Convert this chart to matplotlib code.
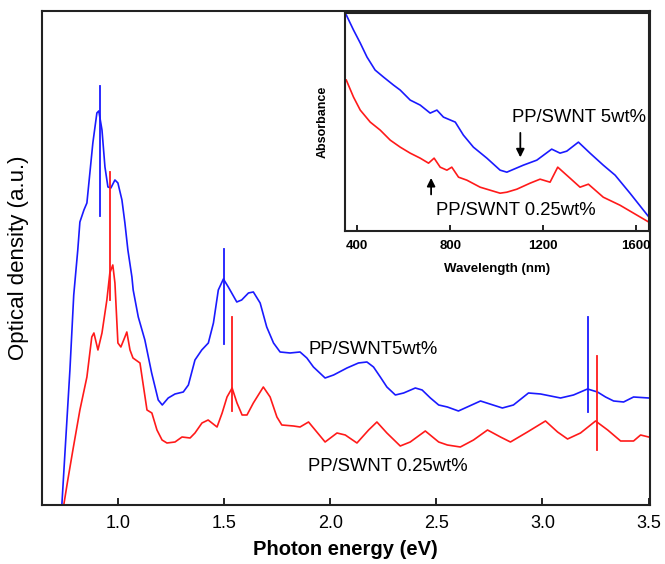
import numpy as np
import matplotlib
matplotlib.use("Agg")
from matplotlib import pyplot as plt

plt.rcParams['font.family'] = ['Liberation Sans', 'DejaVu Sans']

# 主图: 光子能量 (eV) 与光密度 (a.u.)
E_5wt = [0.736, 0.750, 0.774, 0.792, 0.811, 0.821, 0.840, 0.854, 0.868, 0.882,
         0.901, 0.910, 0.925, 0.939, 0.953, 0.967, 0.986, 1.000, 1.019, 1.033,
         1.047, 1.066, 1.072, 1.096, 1.127, 1.159, 1.190, 1.209, 1.237, 1.269,
         1.308, 1.332, 1.363, 1.395, 1.426, 1.450, 1.473, 1.497, 1.520, 1.560,
         1.583, 1.615, 1.638, 1.670, 1.701, 1.733, 1.764, 1.811, 1.858, 1.890,
         1.921, 1.976, 2.016, 2.079, 2.133, 2.173, 2.204, 2.236, 2.267, 2.307,
         2.346, 2.401, 2.433, 2.472, 2.511, 2.552, 2.604, 2.708, 2.811, 2.863,
         2.934, 2.991, 3.085, 3.146, 3.212, 3.259, 3.297, 3.335, 3.382, 3.429,
         3.500]
OD_5wt = [0.00, 0.50, 1.35, 2.10, 2.55, 2.83, 2.95, 3.02, 3.32, 3.62,
          3.92, 3.94, 3.75, 3.38, 3.18, 3.17, 3.25, 3.22, 3.05, 2.82,
          2.55, 2.28, 2.15, 1.88, 1.65, 1.32, 1.05, 1.00, 1.07, 1.11,
          1.13, 1.20, 1.45, 1.55, 1.62, 1.82, 2.15, 2.26, 2.18, 2.03,
          2.05, 2.12, 2.13, 2.02, 1.78, 1.62, 1.53, 1.52, 1.53, 1.47,
          1.38, 1.27, 1.30, 1.37, 1.42, 1.43, 1.38, 1.28, 1.18, 1.10,
          1.12, 1.17, 1.15, 1.07, 1.00, 0.98, 0.94, 1.04, 0.97, 1.00,
          1.12, 1.11, 1.07, 1.10, 1.16, 1.13, 1.08, 1.04, 1.03, 1.08,
          1.07]

E_025wt = [0.745, 0.764, 0.788, 0.821, 0.854, 0.877, 0.887, 0.906, 0.925, 0.948,
           0.962, 0.976, 0.986, 1.000, 1.014, 1.033, 1.042, 1.057, 1.071, 1.104,
           1.118, 1.137, 1.160, 1.184, 1.208, 1.231, 1.269, 1.302, 1.340, 1.363,
           1.396, 1.425, 1.443, 1.467, 1.491, 1.514, 1.538, 1.561, 1.585, 1.608,
           1.638, 1.685, 1.717, 1.749, 1.772, 1.827, 1.858, 1.898, 1.937, 1.976,
           2.032, 2.071, 2.126, 2.181, 2.220, 2.267, 2.330, 2.377, 2.448, 2.511,
           2.552, 2.613, 2.675, 2.741, 2.802, 2.849, 2.929, 3.014, 3.071, 3.118,
           3.179, 3.250, 3.307, 3.368, 3.429, 3.462, 3.500]
OD_025wt = [0.00, 0.25, 0.55, 0.95, 1.28, 1.68, 1.72, 1.55, 1.72, 2.05,
            2.32, 2.40, 2.22, 1.62, 1.58, 1.68, 1.73, 1.55, 1.47, 1.42,
            1.22, 0.95, 0.92, 0.75, 0.65, 0.62, 0.63, 0.68, 0.67, 0.72,
            0.82, 0.85, 0.82, 0.78, 0.92, 1.08, 1.17, 1.02, 0.90, 0.90,
            1.02, 1.18, 1.08, 0.88, 0.80, 0.79, 0.78, 0.83, 0.73, 0.63,
            0.72, 0.70, 0.62, 0.75, 0.83, 0.72, 0.59, 0.63, 0.74, 0.63,
            0.60, 0.58, 0.65, 0.75, 0.68, 0.63, 0.73, 0.84, 0.73, 0.66,
            0.72, 0.84, 0.75, 0.64, 0.64, 0.70, 0.68]

# 跃迁位置的竖线 (能量, 下端, 上端)
mark_5wt = [(0.915, 2.89, 4.19), (1.500, 1.61, 2.56), (3.212, 0.93, 1.88)]
mark_025wt = [(0.962, 2.05, 3.33), (1.538, 0.94, 1.88), (3.259, 0.55, 1.49)]

# 插图: 波长 (nm) 与吸光度
wl_5wt = [353, 384, 413, 442, 477, 513, 556, 585, 628, 671, 714, 743, 771, 822,
          857, 900, 958, 1015, 1044, 1115, 1173, 1237, 1273, 1302, 1352, 1402,
          1459, 1510, 1574, 1656]
abs_5wt = [2.16, 2.01, 1.88, 1.74, 1.61, 1.54, 1.46, 1.41, 1.31, 1.26, 1.18, 1.21, 1.14, 1.09,
           0.96, 0.84, 0.73, 0.61, 0.59, 0.66, 0.71, 0.82, 0.78, 0.80, 0.89, 0.78,
           0.66, 0.56, 0.38, 0.14]
wl_025wt = [353, 384, 413, 456, 499, 542, 585, 628, 671, 707, 731, 757, 786, 807,
            836, 872, 929, 972, 1015, 1044, 1087, 1144, 1187, 1230, 1263, 1316,
            1359, 1395, 1459, 1531, 1656]
abs_025wt = [1.51, 1.34, 1.21, 1.09, 1.01, 0.91, 0.84, 0.78, 0.73, 0.68, 0.73, 0.64, 0.61, 0.64,
             0.54, 0.51, 0.44, 0.41, 0.38, 0.39, 0.42, 0.48, 0.52, 0.49, 0.64, 0.53,
             0.44, 0.47, 0.34, 0.26, 0.09]

blue = '#1a1aff'
red = '#ff1a1a'

fig = plt.figure(figsize=(6.65, 5.64), dpi=100)
ax = fig.add_axes([0.063, 0.1046, 0.914, 0.876])
ax.plot(E_5wt, OD_5wt, color=blue, lw=1.2)
ax.plot(E_025wt, OD_025wt, color=red, lw=1.2)
for e, y0, y1 in mark_5wt:
    ax.plot([e, e], [y0, y1], color=blue, lw=1.3)
for e, y0, y1 in mark_025wt:
    ax.plot([e, e], [y0, y1], color=red, lw=1.3)

ax.set_xlim(0.642, 3.505)
ax.set_ylim(0, 4.94)
ax.set_xticks([1.0, 1.5, 2.0, 2.5, 3.0, 3.5])
ax.set_xticklabels(['1.0', '1.5', '2.0', '2.5', '3.0', '3.5'])
ax.set_yticks([])
ax.tick_params(axis='x', direction='in', length=5, width=1.2, labelsize=13, pad=7)
for s in ax.spines.values():
    s.set_linewidth(1.5)
    s.set_color('#222222')
ax.set_xlabel('Photon energy (eV)', fontsize=14.5, fontweight='bold', labelpad=6)
ax.set_ylabel('Optical density (a.u.)', fontsize=16, labelpad=9)

ax.text(2.2, 1.55, 'PP/SWNT5wt%', fontsize=13.3, ha='center', va='center')
ax.text(2.273, 0.39, 'PP/SWNT 0.25wt%', fontsize=13.3, ha='center', va='center')

# 插图
ins = fig.add_axes([0.519, 0.590, 0.457, 0.387])
ins.plot(wl_5wt, abs_5wt, color=blue, lw=1.2)
ins.plot(wl_025wt, abs_025wt, color=red, lw=1.2)
ins.set_xlim(348, 1656)
ins.set_ylim(0, 2.18)
ins.set_xticks([400, 800, 1200, 1600])
ins.set_yticks([])
ins.tick_params(axis='x', direction='in', length=4, width=1.2, labelsize=9.5, pad=6)
for lab in ins.get_xticklabels():
    lab.set_fontweight('bold')
for s in ins.spines.values():
    s.set_linewidth(1.5)
    s.set_color('#222222')
ins.set_xlabel('Wavelength (nm)', fontsize=9.5, fontweight='bold', labelpad=8)
ins.set_ylabel('Absorbance', fontsize=9, fontweight='bold', labelpad=12)

ins.text(1356, 1.14, 'PP/SWNT 5wt%', fontsize=13.3, ha='center', va='center')
ins.text(1083, 0.21, 'PP/SWNT 0.25wt%', fontsize=13.3, ha='center', va='center')
ins.annotate('', xy=(1102, 0.71), xytext=(1102, 1.01),
             arrowprops=dict(arrowstyle='-|>', color='black', lw=1.3, mutation_scale=12))
ins.annotate('', xy=(718, 0.56), xytext=(718, 0.34),
             arrowprops=dict(arrowstyle='-|>', color='black', lw=1.3, mutation_scale=12))

fig.savefig('out.png', dpi=100)
